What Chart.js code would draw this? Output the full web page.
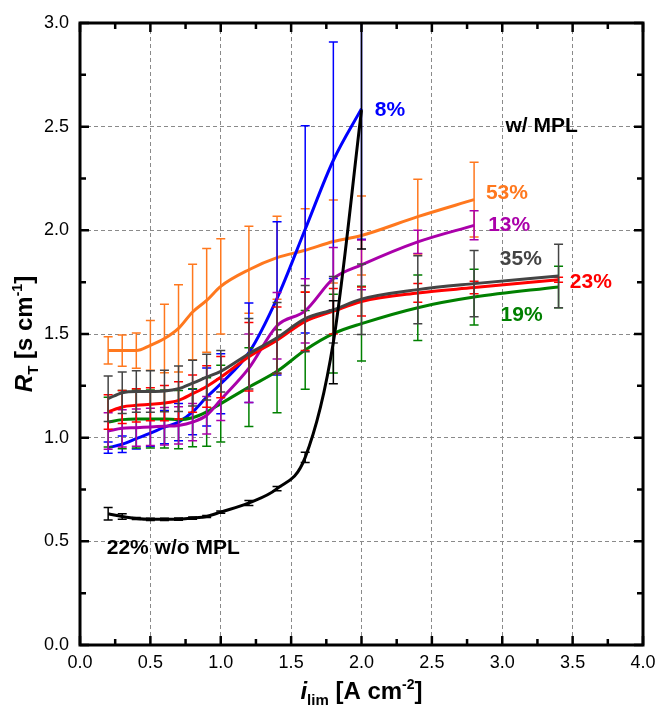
<!DOCTYPE html>
<html>
<head>
<meta charset="utf-8">
<script src="https://cdn.jsdelivr.net/npm/chart.js@4.4.1/dist/chart.umd.min.js"></script>
<style>
    html, body { margin: 0; padding: 0; background: #fff; }
    #RtChart { display: block; }
</style>
</head>
<body>
<canvas id="RtChart" width="663" height="709"></canvas>
<script>
// limiting current density [A cm-2]
const current = [0.2, 0.3, 0.4, 0.5, 0.6, 0.7, 0.8, 0.9, 1.0, 1.2, 1.4, 1.6, 1.8, 2.0, 2.4, 2.8, 3.4];
const current_noMPL = [0.2, 0.3, 0.4, 0.5, 0.6, 0.7, 0.8, 0.9, 1.0, 1.2, 1.4, 1.6, 1.8, 2.0];

// total transport resistance R_T [s cm-1] and its spread, per PTFE loading
const rt_8 = [0.952, 0.968, 0.995, 1.022, 1.051, 1.075, 1.124, 1.196, 1.26, 1.41, 1.672, 2.005, 2.338, 2.587];
const err_8 = [0.027, 0.04, 0.05, 0.065, 0.08, 0.09, 0.11, 0.14, 0.145, 0.24, 0.37, 0.5, 0.57, 0.63];

const rt_53 = [1.421, 1.42, 1.42, 1.445, 1.478, 1.527, 1.606, 1.662, 1.73, 1.81, 1.868, 1.904, 1.946, 1.975, 2.066, 2.148];
const err_53 = [0.066, 0.075, 0.085, 0.12, 0.165, 0.21, 0.23, 0.25, 0.23, 0.21, 0.2, 0.2, 0.2, 0.19, 0.18, 0.18];

const rt_13 = [1.032, 1.045, 1.048, 1.052, 1.055, 1.059, 1.075, 1.108, 1.183, 1.335, 1.54, 1.612, 1.767, 1.833, 1.944, 2.024];
const err_13 = [0.088, 0.09, 0.09, 0.09, 0.09, 0.09, 0.09, 0.09, 0.1, 0.165, 0.16, 0.155, 0.15, 0.12, 0.056, 0.07];

const rt_35 = [1.188, 1.217, 1.223, 1.223, 1.225, 1.236, 1.263, 1.292, 1.32, 1.405, 1.482, 1.574, 1.617, 1.668, 1.714, 1.743, 1.78];
const err_35 = [0.11, 0.1, 0.1, 0.1, 0.1, 0.11, 0.11, 0.11, 0.1, 0.17, 0.17, 0.16, 0.16, 0.17, 0.164, 0.16, 0.153];

const rt_23 = [1.124, 1.148, 1.156, 1.161, 1.167, 1.18, 1.212, 1.247, 1.292, 1.39, 1.47, 1.561, 1.61, 1.657, 1.698, 1.724, 1.762];
const err_23 = [0.083, 0.08, 0.08, 0.08, 0.085, 0.09, 0.09, 0.1, 0.1, 0.165, 0.16, 0.14, 0.11, 0.07, 0.045, 0.03, 0.012];

const rt_19 = [1.075, 1.087, 1.09, 1.09, 1.09, 1.087, 1.096, 1.124, 1.164, 1.244, 1.32, 1.423, 1.502, 1.55, 1.627, 1.678, 1.727];
const err_19 = [0.12, 0.14, 0.14, 0.14, 0.14, 0.14, 0.14, 0.165, 0.185, 0.19, 0.2, 0.19, 0.19, 0.18, 0.158, 0.134, 0.10];

const rt_22noMPL = [0.633, 0.62, 0.61, 0.606, 0.606, 0.607, 0.612, 0.62, 0.641, 0.685, 0.754, 0.905, 1.46, 2.58];
const err_22noMPL = [0.03, 0.013, 0.005, 0.005, 0.005, 0.005, 0.005, 0.005, 0.005, 0.012, 0.01, 0.025, 0.2, 0.67];

// in-plot labels (data units)
const noteText = ['8%', 'w/ MPL', '53%', '13%', '35%', '23%', '19%', '22% w/o MPL'];
const noteX = [2.095, 3.023, 2.884, 2.9, 2.983, 3.48, 2.988, 0.19];
const noteY = [2.578, 2.503, 2.181, 2.024, 1.862, 1.752, 1.589, 0.466];

const FONT = "'Liberation Sans', Arial, Helvetica, sans-serif";
const BLUE = '#0000ff', ORANGE = '#ff781e', PURPLE = '#aa00aa', GREY = '#444444',
      RED = '#ff0000', GREEN = '#008000', BLACK = '#000000';
const noteColor = [BLUE, BLACK, ORANGE, PURPLE, GREY, RED, GREEN, BLACK];

function series(label, xs, ys, errs, color) {
    return {
        label: label,
        data: ys.map((v, i) => ({ x: xs[i], y: v })),
        errorBars: errs,
        borderColor: color,
        backgroundColor: color,
        borderWidth: 3,
        pointRadius: 0,
        fill: false,
        cubicInterpolationMode: 'monotone'
    };
}

// first dataset ends up on top
const datasets = [
    series('22% w/o MPL', current_noMPL, rt_22noMPL, err_22noMPL, BLACK),
    series('35%', current, rt_35, err_35, GREY),
    series('23%', current, rt_23, err_23, RED),
    series('13%', current, rt_13, err_13, PURPLE),
    series('19%', current, rt_19, err_19, GREEN),
    series('8%', current, rt_8, err_8, BLUE),
    series('53%', current, rt_53, err_53, ORANGE)
];

// vertical error bars with caps, drawn just under each line
const errorBars = {
    id: 'errorBars',
    beforeDatasetDraw(chart, args) {
        const ds = chart.data.datasets[args.index];
        if (!ds.errorBars) return;
        const { ctx, chartArea: a } = chart;
        const xs = chart.scales.x, ys = chart.scales.y;
        ctx.save();
        ctx.beginPath();
        ctx.rect(a.left, a.top, a.right - a.left, a.bottom - a.top);
        ctx.clip();
        ctx.strokeStyle = ds.borderColor;
        ctx.lineWidth = 1.5;
        ds.data.forEach((p, i) => {
            const e = ds.errorBars[i];
            const px = xs.getPixelForValue(p.x);
            const top = ys.getPixelForValue(p.y + e);
            const bot = ys.getPixelForValue(p.y - e);
            ctx.beginPath();
            ctx.moveTo(px, top); ctx.lineTo(px, bot);
            ctx.moveTo(px - 4.5, top); ctx.lineTo(px + 4.5, top);
            ctx.moveTo(px - 4.5, bot); ctx.lineTo(px + 4.5, bot);
            ctx.stroke();
        });
        ctx.restore();
    }
};

function drawRich(ctx, parts, cx, baseline) {
    let w = 0;
    parts.forEach(p => { ctx.font = p.font; w += ctx.measureText(p.text).width; });
    let x = cx - w / 2;
    ctx.textAlign = 'left';
    ctx.textBaseline = 'alphabetic';
    parts.forEach(p => {
        ctx.font = p.font;
        ctx.fillText(p.text, x, baseline + (p.dy || 0));
        x += ctx.measureText(p.text).width;
    });
}

// frame, inward ticks on all sides, text labels and axis titles
const decorations = {
    id: 'decorations',
    afterDraw(chart) {
        const { ctx, chartArea: a } = chart;
        const xs = chart.scales.x, ys = chart.scales.y;
        ctx.save();
        ctx.strokeStyle = '#000';
        ctx.lineWidth = 2.5;
        for (let v = 0; v <= 4.0001; v += 0.25) {
            const px = xs.getPixelForValue(v);
            const len = Math.abs(v * 2 - Math.round(v * 2)) < 1e-6 ? 9 : 6;
            ctx.beginPath();
            ctx.moveTo(px, a.bottom); ctx.lineTo(px, a.bottom - len);
            ctx.moveTo(px, a.top); ctx.lineTo(px, a.top + len);
            ctx.stroke();
        }
        for (let v = 0; v <= 3.0001; v += 0.25) {
            const py = ys.getPixelForValue(v);
            const len = Math.abs(v * 2 - Math.round(v * 2)) < 1e-6 ? 9 : 6;
            ctx.beginPath();
            ctx.moveTo(a.left, py); ctx.lineTo(a.left + len, py);
            ctx.moveTo(a.right, py); ctx.lineTo(a.right - len, py);
            ctx.stroke();
        }
        ctx.lineWidth = 3;
        ctx.strokeRect(a.left, a.top, a.right - a.left, a.bottom - a.top);

        ctx.textAlign = 'left';
        ctx.textBaseline = 'middle';
        ctx.font = 'bold 21px ' + FONT;
        noteText.forEach((t, i) => {
            ctx.fillStyle = noteColor[i];
            ctx.fillText(t, xs.getPixelForValue(noteX[i]), ys.getPixelForValue(noteY[i]));
        });

        ctx.fillStyle = '#000';
        drawRich(ctx, [
            { text: 'i', font: 'italic bold 24px ' + FONT },
            { text: 'lim', font: 'bold 15px ' + FONT, dy: 6 },
            { text: ' [A cm', font: 'bold 24px ' + FONT },
            { text: '-2', font: 'bold 14px ' + FONT, dy: -10 },
            { text: ']', font: 'bold 24px ' + FONT }
        ], (a.left + a.right) / 2, 699);

        ctx.translate(32, (a.top + a.bottom) / 2);
        ctx.rotate(-Math.PI / 2);
        drawRich(ctx, [
            { text: 'R', font: 'italic bold 24px ' + FONT },
            { text: 'T', font: 'bold 15px ' + FONT, dy: 6 },
            { text: ' [s cm', font: 'bold 24px ' + FONT },
            { text: '-1', font: 'bold 14px ' + FONT, dy: -10 },
            { text: ']', font: 'bold 24px ' + FONT }
        ], 0, 0);
        ctx.restore();
    }
};

const config_Rt = {
    type: 'line',
    data: { datasets: datasets },
    options: {
        responsive: false,
        animation: false,
        layout: { padding: { top: 23, right: 20, left: 0, bottom: 0 } },
        plugins: {
            legend: { display: false },
            tooltip: { enabled: false }
        },
        scales: {
            x: {
                type: 'linear',
                min: 0,
                max: 4,
                afterFit: (s) => { s.height = 64; },
                ticks: {
                    stepSize: 0.5,
                    autoSkip: false,
                    maxRotation: 0,
                    padding: 7,
                    color: '#000',
                    font: { family: FONT, size: 18 },
                    callback: (v) => v.toFixed(1)
                },
                grid: { color: '#8a8a8a', lineWidth: 1, drawTicks: false },
                border: { display: false, dash: [4, 3] }
            },
            y: {
                min: 0,
                max: 3,
                afterFit: (s) => { s.width = 80; },
                ticks: {
                    stepSize: 0.5,
                    padding: 11,
                    color: '#000',
                    font: { family: FONT, size: 18 },
                    callback: (v) => v.toFixed(1)
                },
                grid: { color: '#8a8a8a', lineWidth: 1, drawTicks: false },
                border: { display: false, dash: [4, 3] }
            }
        }
    },
    plugins: [errorBars, decorations]
};

const myChart_Rt = new Chart(document.getElementById('RtChart'), config_Rt);
</script>
</body>
</html>
